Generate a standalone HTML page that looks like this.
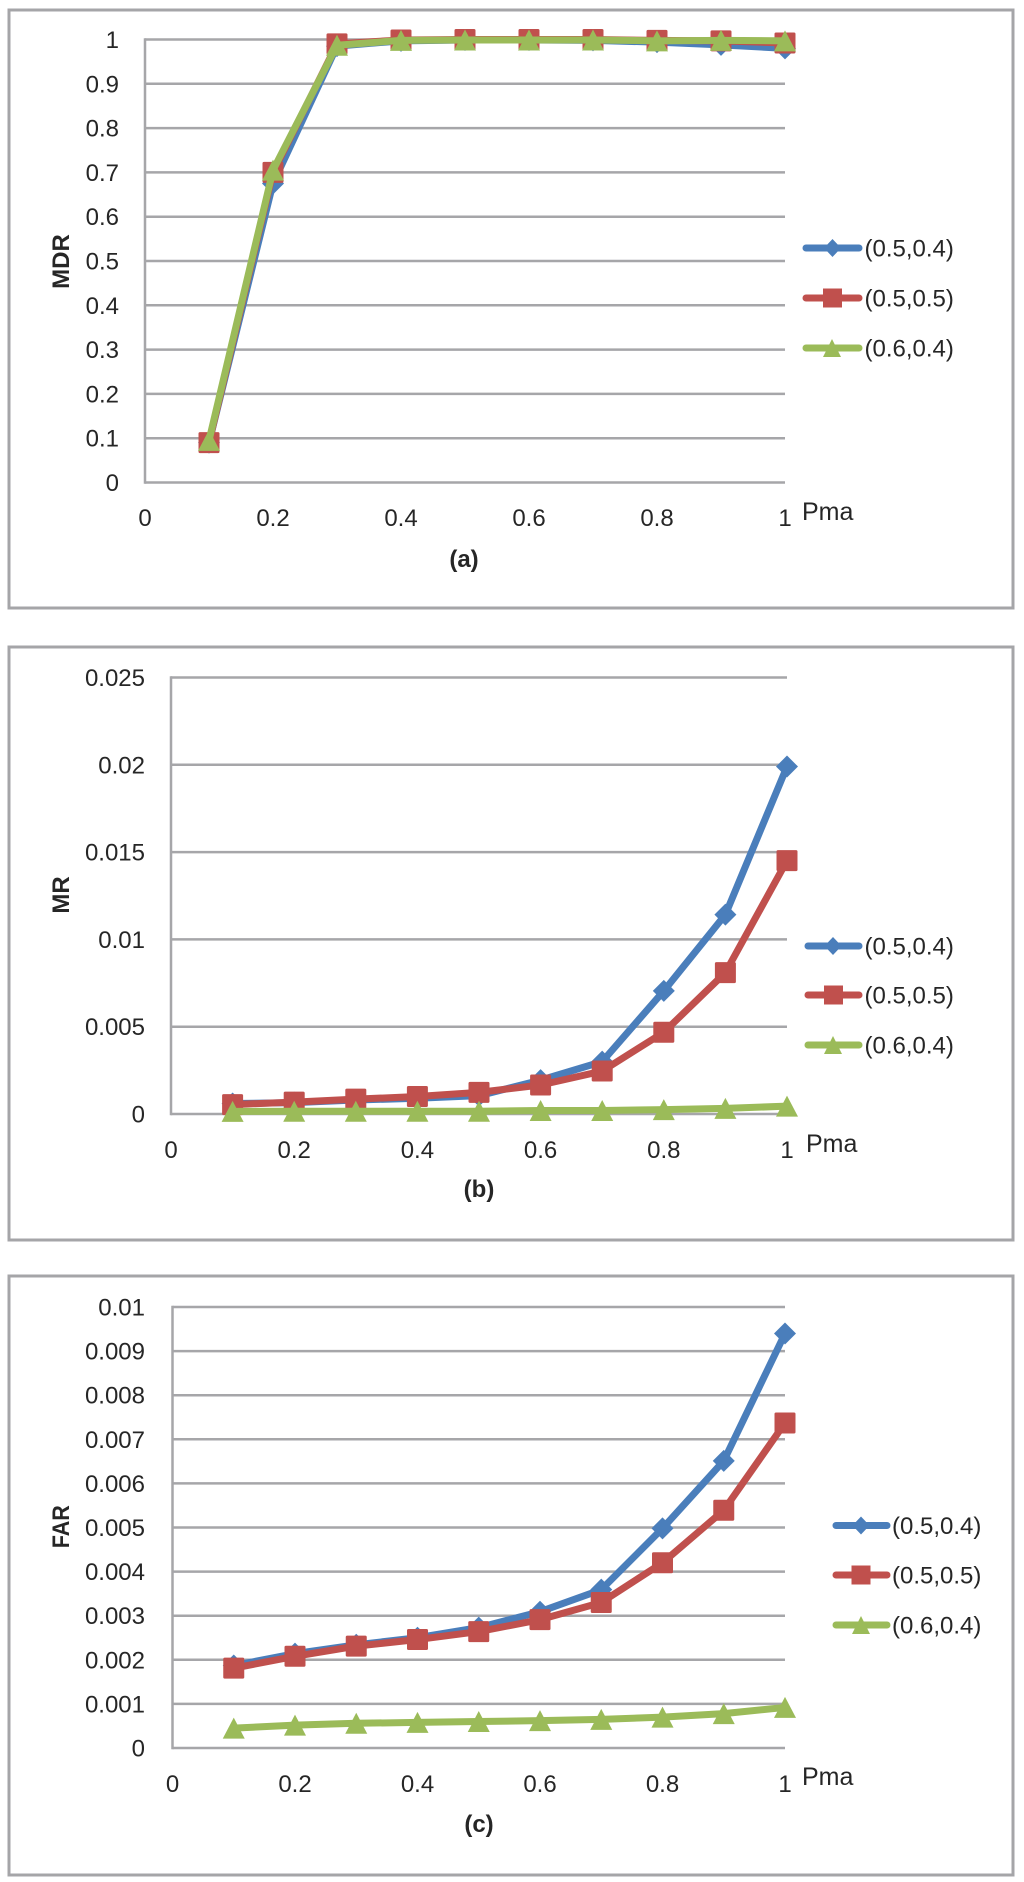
<!DOCTYPE html>
<html lang="en">
<head>
<meta charset="utf-8">
<title>MDR, MR and FAR versus Pma</title>
<style>
html,body{margin:0;padding:0;background:#fff;width:1024px;height:1882px;overflow:hidden}
svg{display:block}
text{font-family:"Liberation Sans",sans-serif;fill:#262626}
.tick{font-size:24px}
.leg{font-size:24px}
.pma{font-size:25px}
.ytitle{font-size:24px;font-weight:bold}
.cap{font-size:24px;font-weight:bold}
.frame{fill:#fff;stroke:#a5a5a8;stroke-width:3}
</style>
</head>
<body>
<svg id="figure" xmlns="http://www.w3.org/2000/svg" width="1024" height="1882" viewBox="0 0 1024 1882">
  <rect width="1024" height="1882" fill="#fff"/>

  <g id="panel-a">
    <rect class="frame" x="9" y="10" width="1004" height="598"/>
    <g id="plot-a"></g>
    <text class="ytitle" text-anchor="middle" transform="translate(69,261.5) rotate(-90)">MDR</text>
    <text class="pma" x="802" y="520">Pma</text>
    <text class="cap" x="464" y="567" text-anchor="middle">(a)</text>
    <g>
      <g>
        <line x1="806" x2="859" y1="248" y2="248" stroke="#4a7ebb" stroke-width="7" stroke-linecap="round"/>
        <polygon points="832.5,239 841,248 832.5,257 824,248" fill="#4a7ebb"/>
        <text class="leg" x="864.5" y="256.5">(0.5,0.4)</text>
      </g>
      <g>
        <line x1="806" x2="859" y1="298" y2="298" stroke="#c0504d" stroke-width="7" stroke-linecap="round"/>
        <rect x="823" y="288.5" width="19" height="19" fill="#c0504d"/>
        <text class="leg" x="864.5" y="306.5">(0.5,0.5)</text>
      </g>
      <g>
        <line x1="806" x2="859" y1="348" y2="348" stroke="#9bbb59" stroke-width="7" stroke-linecap="round"/>
        <polygon points="832,339 841,357 823,357" fill="#9bbb59"/>
        <text class="leg" x="864.5" y="356.5">(0.6,0.4)</text>
      </g>
    </g>
  </g>

  <g id="panel-b">
    <rect class="frame" x="9" y="647" width="1004" height="593"/>
    <g id="plot-b"></g>
    <text class="ytitle" text-anchor="middle" transform="translate(69,895) rotate(-90)">MR</text>
    <text class="pma" x="806" y="1152">Pma</text>
    <text class="cap" x="479" y="1197" text-anchor="middle">(b)</text>
    <g>
      <g>
        <line x1="808" x2="859" y1="946" y2="946" stroke="#4a7ebb" stroke-width="7" stroke-linecap="round"/>
        <polygon points="833,937 841.5,946 833,955 824.5,946" fill="#4a7ebb"/>
        <text class="leg" x="864.5" y="954.5">(0.5,0.4)</text>
      </g>
      <g>
        <line x1="808" x2="859" y1="995" y2="995" stroke="#c0504d" stroke-width="7" stroke-linecap="round"/>
        <rect x="824" y="985.5" width="19" height="19" fill="#c0504d"/>
        <text class="leg" x="864.5" y="1003.5">(0.5,0.5)</text>
      </g>
      <g>
        <line x1="808" x2="859" y1="1045" y2="1045" stroke="#9bbb59" stroke-width="7" stroke-linecap="round"/>
        <polygon points="833,1036 842,1054 824,1054" fill="#9bbb59"/>
        <text class="leg" x="864.5" y="1053.5">(0.6,0.4)</text>
      </g>
    </g>
  </g>

  <g id="panel-c">
    <rect class="frame" x="9" y="1276" width="1004" height="599"/>
    <g id="plot-c"></g>
    <text class="ytitle" text-anchor="middle" textLength="43" lengthAdjust="spacingAndGlyphs" transform="translate(69,1526.7) rotate(-90)">FAR</text>
    <text class="pma" x="802" y="1785">Pma</text>
    <text class="cap" x="479" y="1832" text-anchor="middle">(c)</text>
    <g>
      <g>
        <line x1="836" x2="887" y1="1525.5" y2="1525.5" stroke="#4a7ebb" stroke-width="7" stroke-linecap="round"/>
        <polygon points="861,1516.5 869.5,1525.5 861,1534.5 852.5,1525.5" fill="#4a7ebb"/>
        <text class="leg" x="892" y="1534">(0.5,0.4)</text>
      </g>
      <g>
        <line x1="836" x2="887" y1="1575" y2="1575" stroke="#c0504d" stroke-width="7" stroke-linecap="round"/>
        <rect x="851.5" y="1565.5" width="19" height="19" fill="#c0504d"/>
        <text class="leg" x="892" y="1583.5">(0.5,0.5)</text>
      </g>
      <g>
        <line x1="836" x2="887" y1="1625" y2="1625" stroke="#9bbb59" stroke-width="7" stroke-linecap="round"/>
        <polygon points="861,1616 870,1634 852,1634" fill="#9bbb59"/>
        <text class="leg" x="892" y="1633.5">(0.6,0.4)</text>
      </g>
    </g>
  </g>
</svg>

<script>
// Shared x data
const pmaValues = [0.1, 0.2, 0.3, 0.4, 0.5, 0.6, 0.7, 0.8, 0.9, 1];
const xTickValues = [0, 0.2, 0.4, 0.6, 0.8, 1];
const seriesNames = ['(0.5,0.4)', '(0.5,0.5)', '(0.6,0.4)'];

// Panel (a) MDR
const mdrTicks = [0, 0.1, 0.2, 0.3, 0.4, 0.5, 0.6, 0.7, 0.8, 0.9, 1];
const mdrBlue = [0.09, 0.675, 0.985, 0.997, 0.999, 0.999, 0.998, 0.994, 0.988, 0.98];
const mdrRed = [0.09, 0.70, 0.99, 0.999, 1, 1, 1, 0.998, 0.997, 0.992];
const mdrGreen = [0.095, 0.705, 0.987, 0.998, 0.999, 0.999, 0.999, 0.997, 0.998, 0.997];

// Panel (b) MR
const mrTicks = [0, 0.005, 0.01, 0.015, 0.02, 0.025];
const mrBlue = [0.0006, 0.00065, 0.0008, 0.0009, 0.00105, 0.00194, 0.003, 0.00705, 0.01142, 0.0199];
const mrRed = [0.00054, 0.00068, 0.00085, 0.001, 0.00124, 0.00166, 0.00246, 0.00468, 0.0081, 0.01451];
const mrGreen = [0.00015, 0.00016, 0.00016, 0.00016, 0.00016, 0.0002, 0.0002, 0.00025, 0.00032, 0.00045];

// Panel (c) FAR
const farTicks = [0, 0.001, 0.002, 0.003, 0.004, 0.005, 0.006, 0.007, 0.008, 0.009, 0.01];
const farBlue = [0.00187, 0.00214, 0.00234, 0.0025, 0.00273, 0.00309, 0.00359, 0.00498, 0.00651, 0.0094];
const farRed = [0.00181, 0.00208, 0.00231, 0.00246, 0.00264, 0.00291, 0.0033, 0.0042, 0.00539, 0.00737];
const farGreen = [0.00045, 0.00052, 0.00056, 0.00058, 0.0006, 0.00062, 0.00065, 0.0007, 0.00078, 0.00092];

const SVGNS = 'http://www.w3.org/2000/svg';
const BLUE = '#4a7ebb', RED = '#c0504d', GREEN = '#9bbb59', GRID = '#a6a6a9';

function make(tag, attrs, parent) {
  const el = document.createElementNS(SVGNS, tag);
  for (const k in attrs) el.setAttribute(k, attrs[k]);
  parent.appendChild(el);
  return el;
}

function drawPanel(cfg) {
  const root = document.getElementById(cfg.id);
  const xScale = v => cfg.x0 + (cfg.x1 - cfg.x0) * v;
  const yMax = cfg.yTicks[cfg.yTicks.length - 1];
  const yScale = v => cfg.y0 + (cfg.yTop - cfg.y0) * (v / yMax);

  // gridlines and y labels
  cfg.yTicks.forEach(function (t) {
    const grid = make('line', {x1: cfg.x0, x2: cfg.x1, y1: yScale(t), y2: yScale(t), stroke: GRID, 'stroke-width': 2.5}, root);
    
    
    const lab = make('text', {x: cfg.yLabelRight, y: yScale(t) + 8.5, 'text-anchor': 'end', class: 'tick'}, root);
    
    
    lab.textContent = String(t);
  });

  // y axis line
  const axis = make('line', {x1: cfg.x0, x2: cfg.x0, y1: yScale(yMax) - 1.25, y2: cfg.y0 + 1.25, stroke: GRID, 'stroke-width': 2.5}, root);
  
  

  // x labels
  xTickValues.forEach(function (t) {
    const lab = make('text', {x: xScale(t), y: cfg.xLabelY, 'text-anchor': 'middle', class: 'tick'}, root);
    
    
    lab.textContent = String(t);
  });

  // series
  cfg.series.forEach(function (s, si) {
    const g = make('g', {}, root);
    
    
    const pts = s.values.map((v, i) => xScale(pmaValues[i]).toFixed(2) + ',' + yScale(v).toFixed(2)).join(' ');
    const line = make('polyline', {points: pts, fill: 'none', stroke: s.color, 'stroke-width': 7, 'stroke-linejoin': 'round'}, g);
    
    
    s.values.forEach(function (v, i) {
      const x = xScale(pmaValues[i]), y = yScale(v);
      let m;
      if (s.shape === 'diamond') {
        m = make('polygon', {points: [x, y - 11, x + 11, y, x, y + 11, x - 11, y].join(' '), fill: s.color}, g);
      } else if (s.shape === 'square') {
        m = make('rect', {x: x - 10.5, y: y - 10.5, width: 21, height: 21, rx: 1.5, fill: s.color}, g);
      } else {
        m = make('polygon', {points: [x, y - 10.5, x + 11, y + 10.5, x - 11, y + 10.5].join(' '), fill: s.color}, g);
      }
      
      
    });
  });
}

drawPanel({
  id: 'plot-a', x0: 145, x1: 785, y0: 482.5, yTop: 39.5, yLabelRight: 119, xLabelY: 526,
  yTicks: mdrTicks,
  series: [
    {values: mdrBlue, color: BLUE, shape: 'diamond'},
    {values: mdrRed, color: RED, shape: 'square'},
    {values: mdrGreen, color: GREEN, shape: 'triangle'}
  ]
});
drawPanel({
  id: 'plot-b', x0: 171, x1: 787, y0: 1114, yTop: 677.5, yLabelRight: 145, xLabelY: 1158,
  yTicks: mrTicks,
  series: [
    {values: mrBlue, color: BLUE, shape: 'diamond'},
    {values: mrRed, color: RED, shape: 'square'},
    {values: mrGreen, color: GREEN, shape: 'triangle'}
  ]
});
drawPanel({
  id: 'plot-c', x0: 172.5, x1: 785, y0: 1748, yTop: 1307, yLabelRight: 145, xLabelY: 1792,
  yTicks: farTicks,
  series: [
    {values: farBlue, color: BLUE, shape: 'diamond'},
    {values: farRed, color: RED, shape: 'square'},
    {values: farGreen, color: GREEN, shape: 'triangle'}
  ]
});
</script>
</body>
</html>
